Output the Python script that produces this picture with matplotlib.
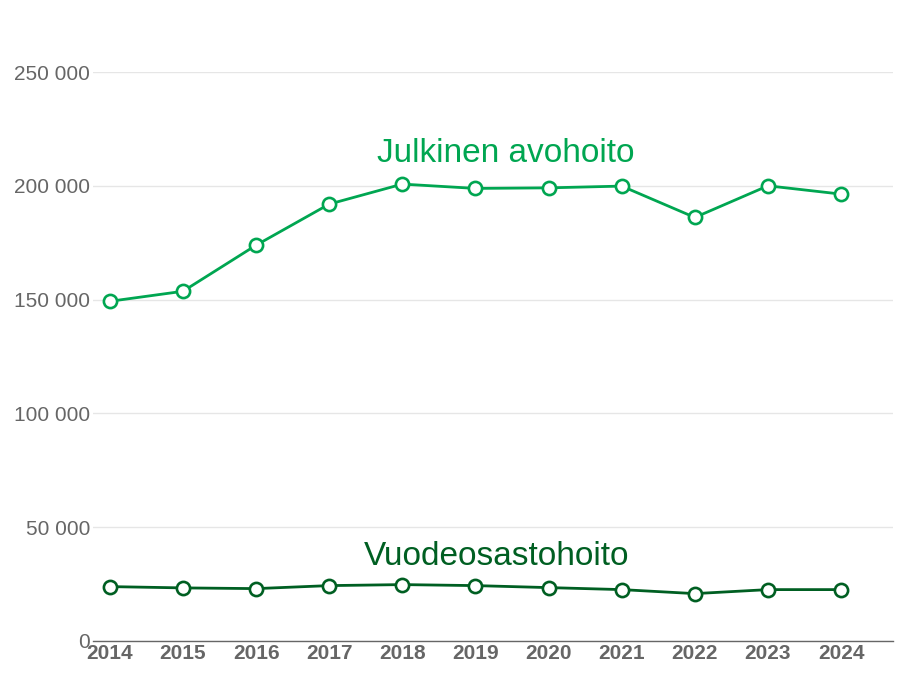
import matplotlib.pyplot as plt
from matplotlib.ticker import FuncFormatter

plt.rcParams['font.family'] = ['Liberation Sans', 'DejaVu Sans']

years = [2014, 2015, 2016, 2017, 2018, 2019, 2020, 2021, 2022, 2023, 2024]
julkinen_avohoito = [149250, 153650, 173900, 191950, 200750, 198850, 199100, 199870, 186100, 200000, 196350]
vuodeosastohoito = [23900, 23330, 23020, 24340, 24780, 24340, 23460, 22580, 20820, 22580, 22580]
y_ticks = [0, 50000, 100000, 150000, 200000, 250000]

light_green = '#00a651'
dark_green = '#005f22'
grey = '#666666'

fig = plt.figure(figsize=(9.2, 6.9), dpi=100)
# axes placed in pixels: left 93, right 893, top 72, bottom 641
ax = fig.add_axes([93 / 920, 1 - 641 / 690, 800 / 920, (641 - 72) / 690])

for values, color in [(julkinen_avohoito, light_green), (vuodeosastohoito, dark_green)]:
    ax.plot(years, values, color=color, linewidth=2.0, marker='o', markersize=9.5,
            markerfacecolor='white', markeredgecolor=color, markeredgewidth=1.9,
            clip_on=False, zorder=3)

ax.text(2019.42, 214000, 'Julkinen avohoito', color=light_green, fontsize=24,
        ha='center', va='center')
ax.text(2019.29, 37000, 'Vuodeosastohoito', color=dark_green, fontsize=24,
        ha='center', va='center')

ax.set_xlim(2013.77, 2024.71)
ax.set_ylim(0, 250000)
ax.set_yticks(y_ticks)
ax.yaxis.set_major_formatter(FuncFormatter(lambda v, p: f'{int(v):,}'.replace(',', ' ')))
ax.set_xticks(years)
ax.set_xticklabels([str(y) for y in years], fontweight='bold')

ax.grid(axis='y', color='#e6e6e6', linewidth=1)
ax.set_axisbelow(True)
for side in ['top', 'right', 'left']:
    ax.spines[side].set_visible(False)
ax.spines['bottom'].set_color(grey)
ax.spines['bottom'].set_linewidth(1)

ax.tick_params(axis='y', length=0, pad=2, labelsize=15, labelcolor=grey)
ax.tick_params(axis='x', length=0, pad=2, labelsize=15, labelcolor=grey)

fig.savefig('out.png', dpi=100)
